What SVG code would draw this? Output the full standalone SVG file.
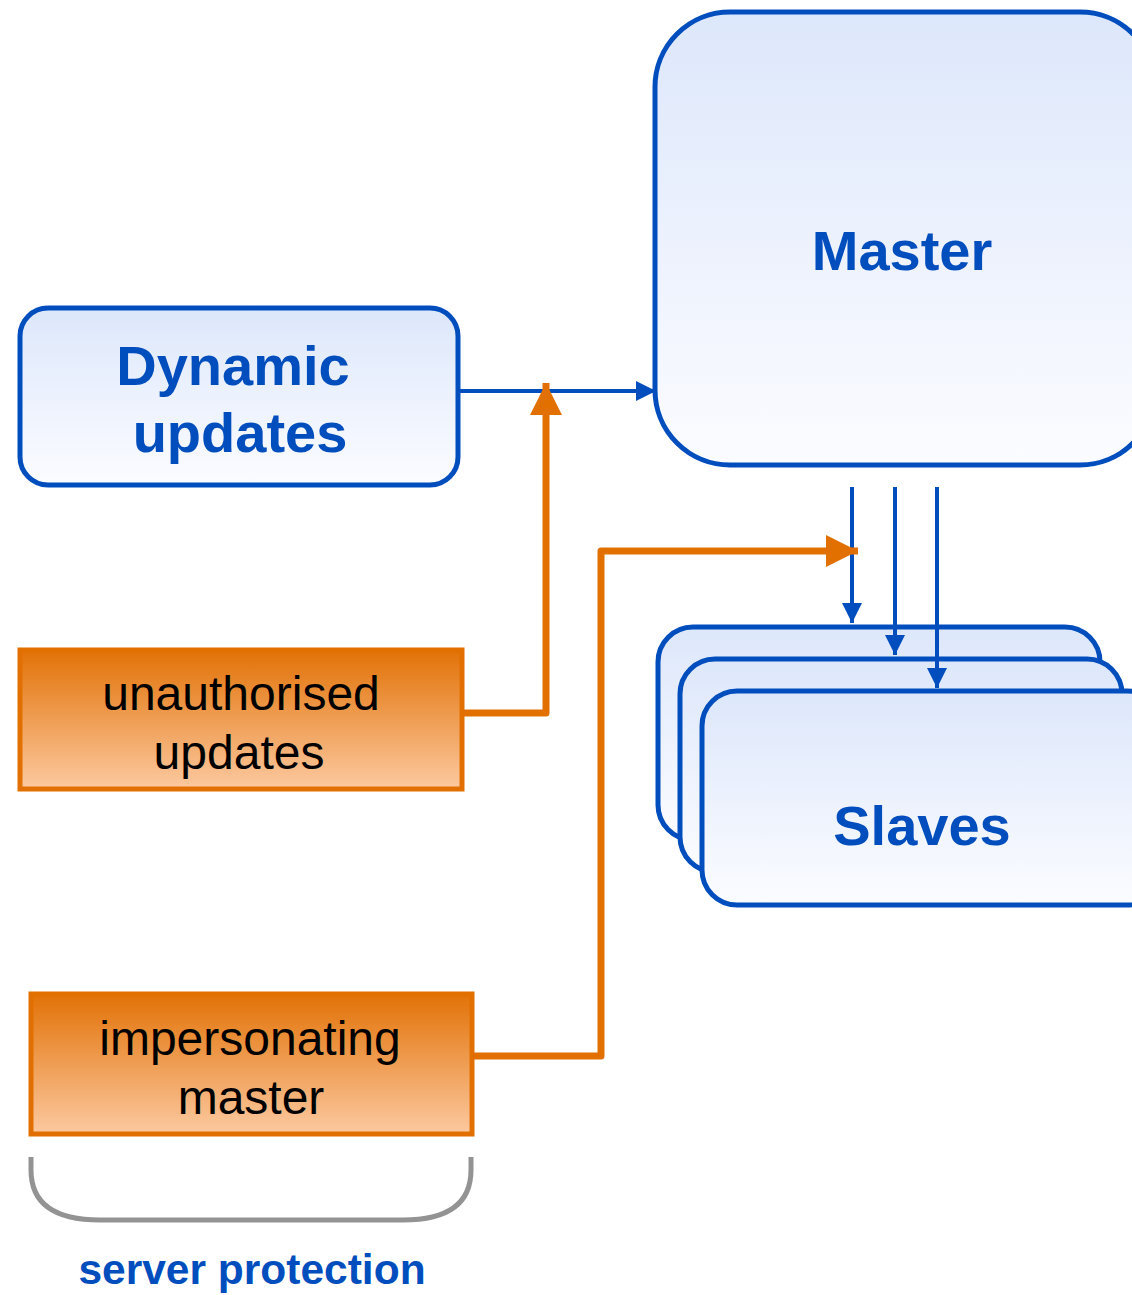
<svg xmlns="http://www.w3.org/2000/svg" width="1132" height="1295" viewBox="0 0 1132 1295">
<defs>
<linearGradient id="gb" x1="0" y1="0" x2="0" y2="1"><stop offset="0" stop-color="#dde7fb"/><stop offset="1" stop-color="#fbfcff"/></linearGradient>
<linearGradient id="go" x1="0" y1="0" x2="0" y2="1"><stop offset="0" stop-color="#e27207"/><stop offset="1" stop-color="#fcc9a0"/></linearGradient>
<marker id="ab" viewBox="0 0 10 10" refX="10" refY="5" markerWidth="5" markerHeight="5" orient="auto" markerUnits="strokeWidth"><path d="M0,0 L10,5 L0,10 z" fill="#004ebd"/></marker>
<marker id="ao" viewBox="0 0 10 10" refX="10" refY="5" markerWidth="4.6" markerHeight="4.6" orient="auto" markerUnits="strokeWidth"><path d="M0,0 L10,5 L0,10 z" fill="#e27000"/></marker>
<style>
.bn{fill:url(#gb);stroke:#004ebd;stroke-width:5}
.on{fill:url(#go);stroke:#e27000;stroke-width:5}
.bt{font-family:"Liberation Sans",Arial,sans-serif;font-weight:bold;fill:#004ebd;text-anchor:middle}
.ot{font-family:"Liberation Sans",Arial,sans-serif;fill:#000;text-anchor:middle;font-size:48px}
.bl{fill:none;stroke:#004ebd;stroke-width:4}
.ol{fill:none;stroke:#e27000;stroke-width:7;stroke-linejoin:round}
</style>
</defs>
<g id="master"><rect class="bn" x="655" y="12" width="500" height="453" rx="75"/><text class="bt" x="902" y="270" font-size="56">Master</text></g>
<g id="dynamic"><rect class="bn" x="20" y="308" width="438" height="177" rx="28"/><text class="bt" x="233" y="385" font-size="56">Dynamic</text><text class="bt" x="240" y="452" font-size="56">updates</text></g>
<g id="unauth"><rect class="on" x="20" y="650" width="442" height="139"/><text class="ot" x="241" y="710">unauthorised</text><text class="ot" x="239" y="769">updates</text></g>
<g id="imperson"><rect class="on" x="31" y="994" width="441" height="140"/><text class="ot" x="250" y="1055">impersonating</text><text class="ot" x="251" y="1114">master</text></g>
<g id="slaves">
<rect class="bn" x="658" y="627" width="442" height="213" rx="35"/>
<rect class="bn" x="680" y="659" width="442" height="213" rx="35"/>
<rect class="bn" x="702" y="691" width="460" height="214" rx="35"/>
<text class="bt" x="922" y="845" font-size="56">Slaves</text>
</g>
<g id="connectors">
<path class="bl" d="M458,391 L656,391" marker-end="url(#ab)"/>
<path class="bl" d="M852,487 L852,623" marker-end="url(#ab)"/>
<path class="bl" d="M895,487 L895,655" marker-end="url(#ab)"/>
<path class="bl" d="M937,487 L937,688" marker-end="url(#ab)"/>
<path class="ol" d="M462,713 L546,713 L546,383" marker-end="url(#ao)"/>
<path class="ol" d="M472,1056 L601,1056 L601,551 L858,551" marker-end="url(#ao)"/>
</g>
<g id="bracket"><path d="M31,1157 L31,1170 Q31,1220 100,1220 L403,1220 Q471,1220 471,1170 L471,1157" fill="none" stroke="#939393" stroke-width="5"/>
<text class="bt" x="252" y="1284" font-size="42.5">server protection</text></g>
</svg>
